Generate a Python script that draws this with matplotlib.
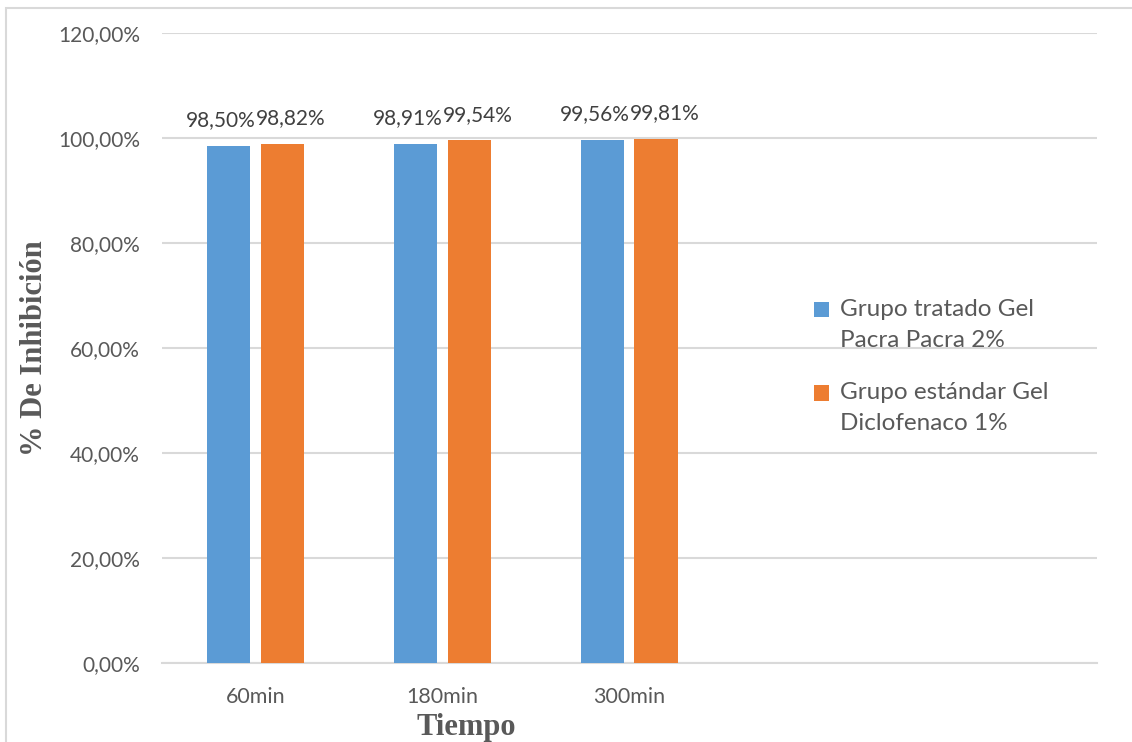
import matplotlib.pyplot as plt
import matplotlib.patches as mpatches
from matplotlib.legend_handler import HandlerPatch
import numpy as np

# categorías del eje X (las dos últimas vacías, como en la hoja original)
tiempos = ['60min', '180min', '300min', '', '']
tratado = [98.50, 98.91, 99.56]
estandar = [98.82, 99.54, 99.81]
series_names = ['Grupo tratado Gel\nPacra Pacra 2%', 'Grupo estándar Gel\nDiclofenaco 1%']
yticks = [0, 20, 40, 60, 80, 100, 120]

azul = '#5b9bd5'
naranja = '#ed7d31'
gris = '#595959'

plt.rcParams['font.family'] = ['Lato', 'DejaVu Sans']


class HandlerArriba(HandlerPatch):
    """Cuadrito de leyenda alineado con la primera línea del texto."""
    def create_artists(self, legend, orig_handle, xdescent, ydescent,
                       width, height, fontsize, trans):
        p = mpatches.Rectangle((-xdescent, -ydescent + 0.62 * fontsize), width, height,
                               facecolor=orig_handle.get_facecolor(),
                               edgecolor='none', transform=trans)
        return [p]


fig = plt.figure(figsize=(11.32, 7.42), dpi=100)
ax = fig.add_axes([0.1431, 0.1065, 0.8259, 0.849])

x = np.arange(len(tratado))
w = 0.23
off = 0.142
b1 = ax.bar(x - off, tratado, w, color=azul, zorder=3)
b2 = ax.bar(x + off, estandar, w, color=naranja, zorder=3)

# etiquetas de valor, separadas un poco hacia fuera para que no se pisen
for bars, vals, dx in [(b1, tratado, -0.045), (b2, estandar, 0.045)]:
    for r, v in zip(bars, vals):
        ax.text(r.get_x() + r.get_width() / 2 + dx, v + 3.0, f"{v:.2f}%".replace('.', ','),
                ha='center', va='bottom', fontsize=15, color='#404040')

ax.set_xlim(-0.5, len(tiempos) - 0.5)
ax.set_ylim(0, 120)
ax.set_xticks(np.arange(len(tiempos)))
ax.set_xticklabels(tiempos, fontsize=15.5, color=gris)
ax.set_yticks(yticks)
ax.set_yticklabels([f"{t:.2f}%".replace('.', ',') for t in yticks], fontsize=15, color=gris)
ax.tick_params(length=0)
ax.tick_params(axis='y', pad=16)
ax.tick_params(axis='x', pad=17)

ax.grid(axis='y', color='#d9d9d9', linewidth=1.5, zorder=0)
for s in ['top', 'right', 'left']:
    ax.spines[s].set_visible(False)
ax.spines['bottom'].set_color('#d9d9d9')
ax.spines['bottom'].set_linewidth(1.5)

ax.set_xlabel('Tiempo', fontsize=22, fontweight='bold', color=gris,
              family='Liberation Serif', va='center')
ax.xaxis.set_label_coords(0.325, -0.103)
ax.set_ylabel('% De Inhibición', fontsize=22, fontweight='bold', color=gris,
              family='Liberation Serif', va='center')
ax.yaxis.set_label_coords(-0.136, 0.5)

handles = [mpatches.Patch(facecolor=azul), mpatches.Patch(facecolor=naranja)]
leg = ax.legend(handles, series_names, loc='center left', bbox_to_anchor=(0.674, 0.471),
                frameon=False, fontsize=17.5, labelcolor=gris,
                handlelength=0.6, handleheight=0.6, handletextpad=0.45,
                labelspacing=1.28, handler_map={mpatches.Patch: HandlerArriba()})
for t in leg.get_texts():
    t.set_linespacing(1.6)

# marco del gráfico
fig.patches.append(mpatches.Rectangle((6 / 1132, -0.01), 1.2, 1 - 8 / 742 + 0.01,
                                      transform=fig.transFigure, fill=False,
                                      edgecolor='#d9d9d9', linewidth=1.5))

fig.savefig('out.png', dpi=100)
